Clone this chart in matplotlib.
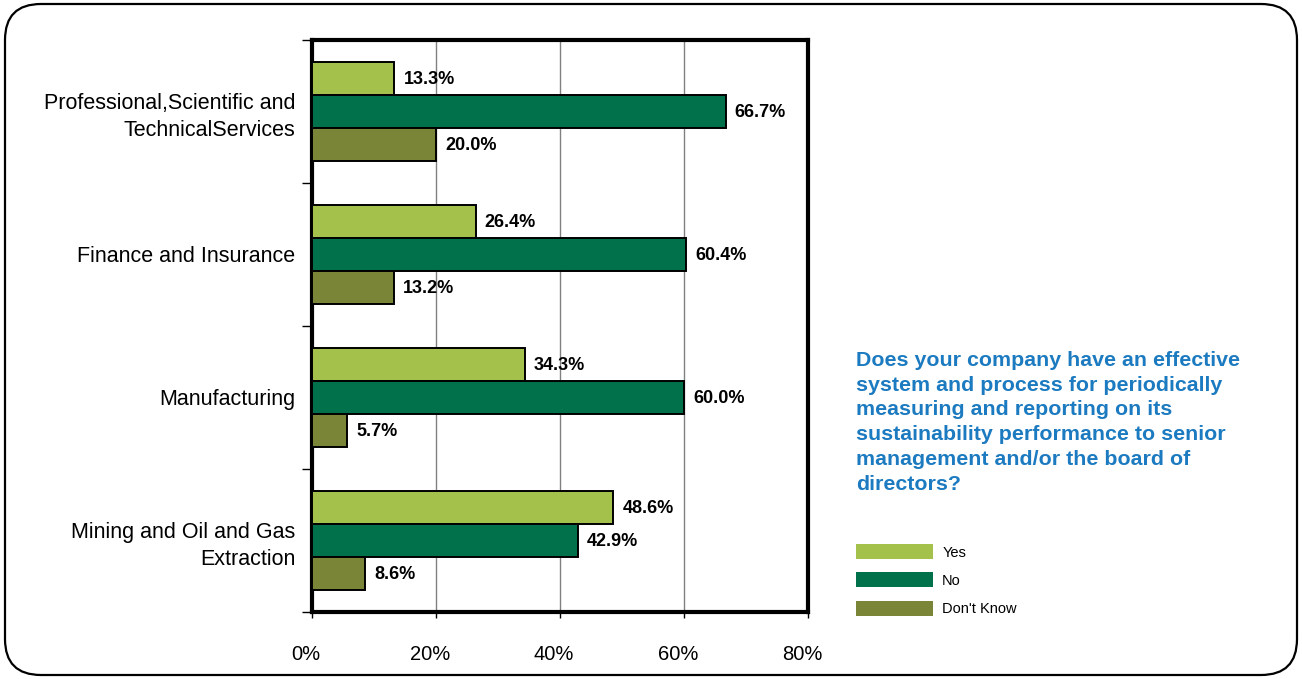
import matplotlib.pyplot as plt
from matplotlib.patches import FancyBboxPatch, Patch
from matplotlib.transforms import IdentityTransform, ScaledTranslation
import numpy as np

plt.rcParams['font.family'] = ['Liberation Sans', 'DejaVu Sans']

categories = ["Professional,Scientific and\nTechnicalServices",
              "Finance and Insurance",
              "Manufacturing",
              "Mining and Oil and Gas\nExtraction"]
series_names = ["Yes", "No", "Don't Know"]
yes_vals = [13.3, 26.4, 34.3, 48.6]
no_vals = [66.7, 60.4, 60.0, 42.9]
dk_vals = [20.0, 13.2, 5.7, 8.6]
colors = ['#A4C24B', '#00714A', '#7A8537']
xticks = [0, 20, 40, 60, 80]
question = ("Does your company have an effective\n"
            "system and process for periodically\n"
            "measuring and reporting on its\n"
            "sustainability performance to senior\n"
            "management and/or the board of\n"
            "directors?")

W, H = 1302, 679
fig = plt.figure(figsize=(W / 100, H / 100), dpi=100)
ax = fig.add_axes([312 / W, 1 - 612 / H, (808 - 312) / W, (612 - 40) / H])

# rounded outer frame
frame = FancyBboxPatch((5, 4), W - 10, H - 8, boxstyle="round,pad=0,rounding_size=36",
                       transform=IdentityTransform(), fill=False, ec='black', lw=1.6)
fig.patches.append(frame)

y = np.arange(len(categories))
h = 0.23
for i, vals in enumerate([yes_vals, no_vals, dk_vals]):
    bars = ax.barh(y + (i - 1) * h, vals, height=h, color=colors[i],
                   edgecolor='black', linewidth=1.4, zorder=3)
    for b, v in zip(bars, vals):
        ax.annotate(f"{v:.1f}%", (b.get_width(), b.get_y() + b.get_height() / 2),
                    xytext=(6.5, -1), textcoords='offset points', va='center', ha='left',
                    fontsize=13, fontweight='bold', zorder=4)

ax.set_xlim(0, 80)
ax.set_ylim(len(categories) - 0.5, -0.5)
ax.set_xticks(xticks)
ax.set_xticklabels([f"{t}%" for t in xticks], fontsize=14.5)
ax.tick_params(axis='x', length=4, width=1, pad=20)
shift = ScaledTranslation(-6 / 100, 0, fig.dpi_scale_trans)
for lbl in ax.get_xticklabels():
    lbl.set_transform(lbl.get_transform() + shift)

ax.set_yticks(np.arange(len(categories) + 1) - 0.5)
ax.set_yticklabels([])
ax.tick_params(axis='y', which='major', length=7, width=1)
ax.set_yticks(y, minor=True)
ax.set_yticklabels(categories, minor=True, fontsize=15.5, ha='right', linespacing=1.35)
ax.tick_params(axis='y', which='minor', length=0, pad=12)

ax.grid(axis='x', color='#808080', lw=1, zorder=0)
for s in ax.spines.values():
    s.set_linewidth(3)

fig.text(856 / W, 1 - 351 / H, question, ha='left', va='top', fontsize=15.4,
         fontweight='bold', color='#1C7BC0', linespacing=1.38)

handles = [Patch(facecolor=c, edgecolor='none') for c in colors]
fig.legend(handles, series_names, loc='upper left', bbox_to_anchor=(843 / W, 1 - 531 / H),
           frameon=False, fontsize=10.5, handlelength=5.3, handleheight=1.2,
           labelspacing=0.88, handletextpad=0.6)

fig.savefig('out.png', dpi=100)
